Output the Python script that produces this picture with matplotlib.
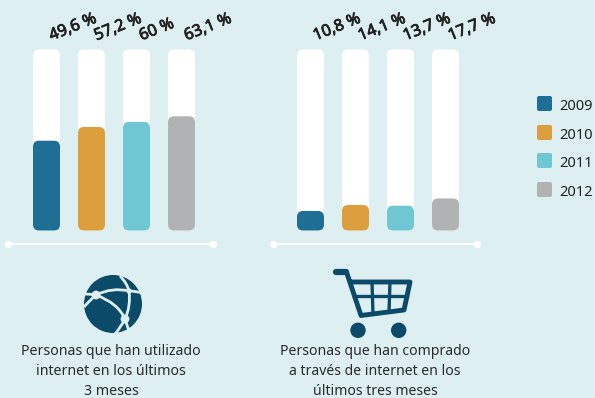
import matplotlib
matplotlib.use('Agg')
import matplotlib.pyplot as plt
import matplotlib.patheffects as pe
from matplotlib.patches import FancyBboxPatch, Circle, PathPatch
from matplotlib.path import Path

plt.rcParams['font.family'] = ['Noto Sans', 'DejaVu Sans']

years = ['2009', '2010', '2011', '2012']
colors = ['#1F6E96', '#DD9F3D', '#6FC7D4', '#B1B2B4']
internet = [49.6, 57.2, 60, 63.1]
compras = [10.8, 14.1, 13.7, 17.7]
internet_labels = ['49,6 %', '57,2 %', '60 %', '63,1 %']
compras_labels = ['10,8 %', '14,1 %', '13,7 %', '17,7 %']

bg = '#DEEFF2'
navy = '#0B4A68'
W, H = 595, 398

fig = plt.figure(figsize=(W / 100, H / 100), dpi=100, facecolor=bg)


def px_axes(left, right, top, bottom):
    return fig.add_axes([left / W, 1 - bottom / H, (right - left) / W, (bottom - top) / H])


def bars(ax, values, labels):
    ax.set_xlim(-0.5, 3.5)
    ax.set_ylim(0, 100)
    ax.axis('off')
    # round corners stay circular thanks to mutation_aspect
    r = 6 / 45
    asp = 45 / 1.81
    w = 27 / 45
    for i, v in enumerate(values):
        ax.add_patch(FancyBboxPatch((i - w / 2, 0), w, 100, boxstyle=f'round,pad=0,rounding_size={r}',
                                    mutation_aspect=asp, fc='white', ec='none', clip_on=False))
        ax.add_patch(FancyBboxPatch((i - w / 2, 0), w, v, boxstyle=f'round,pad=0,rounding_size={r}',
                                    mutation_aspect=asp, fc=colors[i], ec='none', clip_on=False))
        t = ax.annotate(labels[i], xy=(i, 100), xytext=(5, 9), textcoords='offset pixels',
                        rotation=22, rotation_mode='anchor', ha='left', va='baseline',
                        fontsize=11.6, color='#222222')
        t.set_path_effects([pe.withStroke(linewidth=0.6, foreground='#222222')])


bars(px_axes(24, 204, 49.5, 230.5), internet, internet_labels)
bars(px_axes(288, 468, 49.5, 230.5), compras, compras_labels)

# overlay in pixel coordinates for the decoration
ov = fig.add_axes([0, 0, 1, 1], zorder=5)
ov.set_xlim(0, W)
ov.set_ylim(H, 0)
ov.axis('off')

# base lines
for x0, x1 in [(8, 213), (273, 477)]:
    ov.plot([x0, x1], [244, 244], color='white', lw=1.3, solid_capstyle='butt')
    ov.plot([x0, x1], [244, 244], 'o', color='white', ms=5.2, mew=0)

# legend
for y, c, yr in zip([96, 125, 153, 182], colors, years):
    ov.add_patch(FancyBboxPatch((537, y), 15, 15, boxstyle='round,pad=0,rounding_size=2',
                                fc=c, ec='none'))
    ov.text(559, y + 10.5, yr, fontsize=10.5, color='#222222', va='center', ha='left')

# globe icon
ov.add_patch(Circle((113, 304), 29, fc=navy, ec='none'))
Cu = [Path.MOVETO, Path.CURVE3, Path.CURVE3]
globe_lines = [
    ((84, 294), (90, 294), (96, 295)),
    ((96, 295), (112, 287), (129, 291)),
    ((129, 291), (135, 291), (142, 293)),
    ((84, 307), (90, 300), (96, 295)),
    ((96, 295), (118, 303), (125, 319)),
    ((120, 276), (127, 283), (129, 291)),
    ((129, 291), (131, 306), (125, 319)),
    ((125, 319), (121, 327), (115, 334)),
    ((125, 319), (127, 325), (129, 331)),
]
for p in globe_lines:
    ov.add_patch(PathPatch(Path(p, Cu), fc='none', ec=bg, lw=2, capstyle='butt'))
for x, y, r in [(96, 295, 4.4), (125, 319, 4.4), (129, 291, 2.6)]:
    ov.add_patch(Circle((x, y), r, fc=bg, ec='none'))

# cart icon
ov.plot([336, 346.5, 361, 404, 410, 351], [272, 272, 315.5, 310, 282, 282],
        color=navy, lw=3.5, solid_joinstyle='round', solid_capstyle='round')
ov.plot([336, 346], [272, 272], color=navy, lw=4.5, solid_capstyle='round')
for a, b in [((372, 282), (373, 314)), ((390, 282), (389, 312))]:
    ov.plot([a[0], b[0]], [a[1], b[1]], color=navy, lw=2.4)
ov.plot([354, 407], [296, 296], color=navy, lw=2.4)
ov.add_patch(Circle((358, 330.3), 7.7, fc=navy, ec='none'))
ov.add_patch(Circle((398.7, 330.3), 7.7, fc=navy, ec='none'))

# captions
ov.text(111, 371.5, 'Personas que han utilizado\ninternet en los últimos\n3 meses', fontsize=10.2,
        color='#2B2B2B', ha='center', va='center', linespacing=1.42)
ov.text(375, 371.5, 'Personas que han comprado\na través de internet en los\núltimos tres meses', fontsize=10.1,
        color='#2B2B2B', ha='center', va='center', linespacing=1.43)

fig.savefig('out.png', dpi=100, facecolor=bg)
